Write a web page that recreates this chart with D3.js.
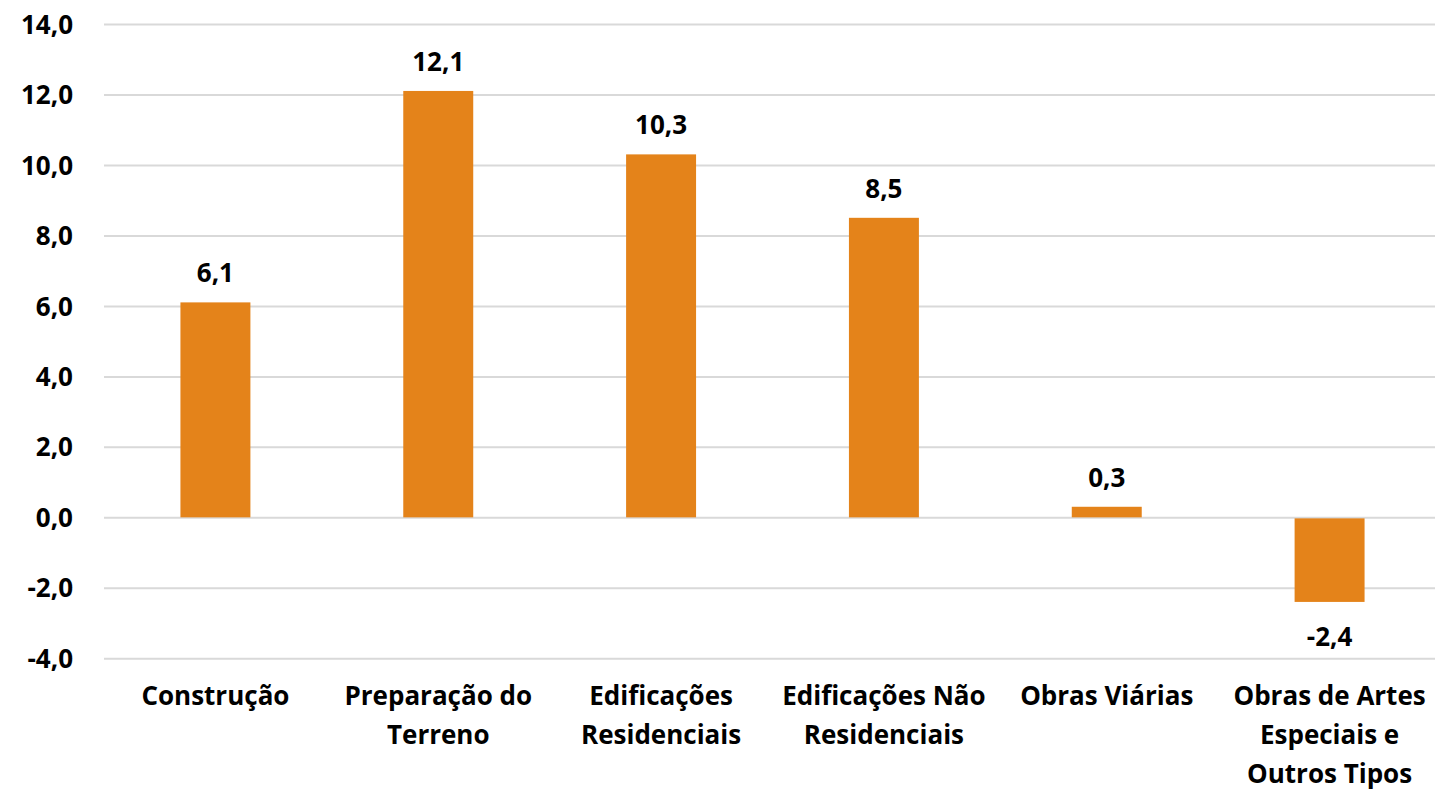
<!DOCTYPE html>
<html>
<head>
<meta charset="utf-8">
<script src="https://cdn.jsdelivr.net/npm/d3@7"></script>
<style>
  body { margin: 0; background: #fff; }
  svg text { font-family: "Open Sans", sans-serif; font-weight: bold; fill: #000; }
</style>
</head>
<body>
<div id="chart"></div>
<script>
// chart values
var categories = ["Construção", "Preparação do Terreno", "Edificações Residenciais",
  "Edificações Não Residenciais", "Obras Viárias", "Obras de Artes Especiais e Outros Tipos"];
var categoryLines = [
  ["Construção"],
  ["Preparação do", "Terreno"],
  ["Edificações", "Residenciais"],
  ["Edificações Não", "Residenciais"],
  ["Obras Viárias"],
  ["Obras de Artes", "Especiais e", "Outros Tipos"]
];
var values = [6.1, 12.1, 10.3, 8.5, 0.3, -2.4];
var yTicks = [-4, -2, 0, 2, 4, 6, 8, 10, 12, 14];

var width = 1435, height = 792;
var barColor = "#e4831a";
var fontSize = 26;

var svg = d3.select("#chart").append("svg")
  .attr("width", width)
  .attr("height", height);

var x = d3.scaleBand()
  .domain(categories)
  .range([104, 1441])
  .paddingInner(0.686)
  .paddingOuter(0.343);

var y = d3.scaleLinear()
  .domain([-4, 14])
  .range([658.3, 24]);

var fmt = function(v) { return d3.format(".1f")(v).replace(".", ",").replace("−", "-"); };

// gridlines + y labels
var yAxis = svg.append("g")
  .attr("transform", "translate(104,0)")
  .call(d3.axisLeft(y).tickValues(yTicks).tickSize(-(width - 104)).tickPadding(31).tickFormat(fmt));
yAxis.select(".domain").remove();
yAxis.selectAll(".tick line").attr("stroke", "#d9d9d9").attr("stroke-width", 2);
yAxis.selectAll(".tick text")
  .attr("font-size", fontSize)
  .attr("dy", "0.35em");

// bars
svg.selectAll("rect.bar")
  .data(values)
  .enter()
  .append("rect")
  .attr("class", "bar")
  .attr("x", function(d, i) { return x(categories[i]); })
  .attr("width", x.bandwidth())
  .attr("y", function(d) { return d >= 0 ? y(d) : y(0) + 1; })
  .attr("height", function(d) { return d >= 0 ? y(0) - y(d) : y(d) - y(0) - 1; })
  .attr("fill", barColor);

// value labels
svg.selectAll("text.val")
  .data(values)
  .enter()
  .append("text")
  .attr("class", "val")
  .attr("x", function(d, i) { return x(categories[i]) + x.bandwidth() / 2; })
  .attr("y", function(d) { return d >= 0 ? y(d) - 20 : y(d) + 44; })
  .attr("text-anchor", "middle")
  .attr("font-size", fontSize)
  .text(function(d) { return fmt(d); });

// category labels
var cat = svg.selectAll("text.cat")
  .data(categoryLines)
  .enter()
  .append("text")
  .attr("class", "cat")
  .attr("text-anchor", "middle")
  .attr("font-size", fontSize)
  .attr("transform", function(d, i) {
    return "translate(" + (x(categories[i]) + x.bandwidth() / 2) + ",705)";
  });
cat.selectAll("tspan")
  .data(function(d) { return d; })
  .enter()
  .append("tspan")
  .attr("x", 0)
  .attr("y", function(d, j) { return j * 39; })
  .text(function(d) { return d; });
</script>
</body>
</html>
